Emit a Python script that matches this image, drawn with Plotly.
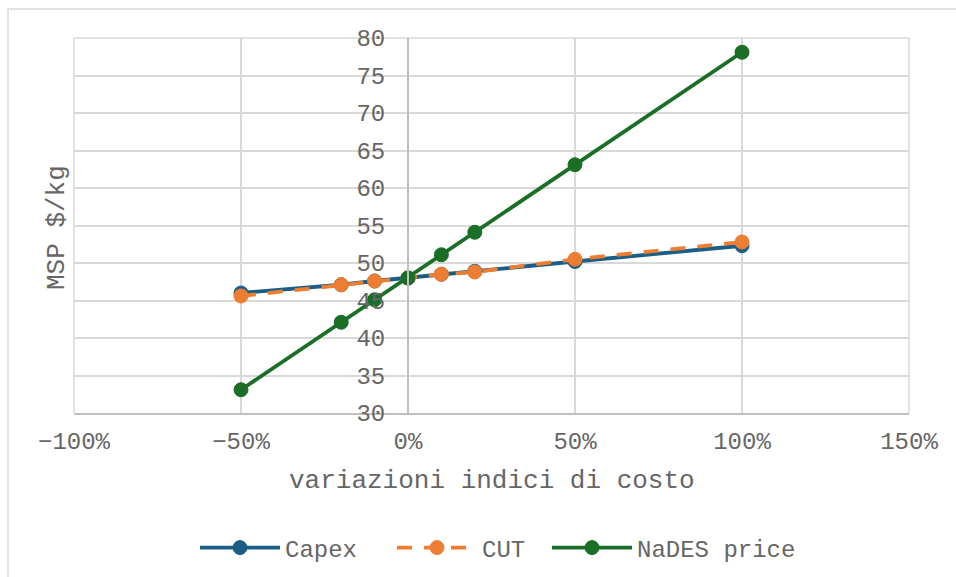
import plotly.graph_objects as go

# Cost-index variation (fraction) and resulting minimum selling price ($/kg)
variazioni = [-0.5, -0.2, -0.1, 0.0, 0.1, 0.2, 0.5, 1.0]
capex = [46.0, 47.1, 47.6, 48.0, 48.5, 48.9, 50.2, 52.3]
cut = [45.6, 47.1, 47.6, 48.0, 48.5, 48.8, 50.5, 52.8]
nades_price = [33.1, 42.1, 45.1, 48.0, 51.1, 54.1, 63.1, 78.1]

x_ticks = [-1.0, -0.5, 0.0, 0.5, 1.0, 1.5]
y_ticks = [30, 35, 40, 45, 50, 55, 60, 65, 70, 75, 80]

FONT = "Liberation Mono, Courier New, monospace"
TXT = "#666666"
GRID = "#d9d9d9"
AXIS = "#bfbfbf"

W, H = 956, 577
L, R, T, B = 74, 47, 38, 164
PW, PH = W - L - R, H - T - B


def px_x(px):
    return (px - L) / PW


def px_y(py):
    return (H - B - py) / PH


series = [
    ("Capex", capex, "#1a5e86", "solid", "legend", 195),
    ("CUT", cut, "#ed7d31", "15px,12px", "legend2", 392),
    ("NaDES price", nades_price, "#1a6e26", "solid", "legend3", 547),
]

fig = go.Figure()
legends = {}
for name, vals, col, dash, leg, lx in series:
    fig.add_trace(go.Scatter(
        x=variazioni, y=vals, name=name, mode="lines+markers",
        line=dict(color=col, width=3.8, dash=dash),
        marker=dict(color=col, size=14, line=dict(color=col, width=1)),
        legend=leg,
    ))
    legends[leg] = dict(
        orientation="h", x=px_x(lx), xanchor="left", y=px_y(548), yanchor="middle",
        font=dict(family=FONT, size=24, color=TXT), itemwidth=80,
        bgcolor="rgba(0,0,0,0)",
    )

fig.update_layout(
    width=W, height=H,
    margin=dict(l=L, r=R, t=T, b=B, pad=0, autoexpand=False),
    paper_bgcolor="white", plot_bgcolor="white",
    font=dict(family=FONT, color=TXT, size=24),
    showlegend=True,
    **legends,
    xaxis=dict(
        range=[-1.0, 1.5], tickvals=x_ticks, tickformat=".0%",
        showgrid=True, gridcolor=GRID, gridwidth=1.5,
        zeroline=False, showline=True, linecolor=AXIS, linewidth=2,
        ticks="", ticklabelstandoff=5,
        tickfont=dict(family=FONT, size=24, color=TXT),
    ),
    yaxis=dict(
        range=[30, 80], tickvals=y_ticks,
        anchor="free", position=0.4,
        showgrid=True, gridcolor=GRID, gridwidth=1.5,
        zeroline=False, showline=True, linecolor=AXIS, linewidth=2,
        ticks="", ticklabelstandoff=17,
        tickfont=dict(family=FONT, size=24, color=TXT),
    ),
    annotations=[
        dict(text="variazioni indici di costo", xref="paper", yref="paper",
             x=px_x(492), y=px_y(481), xanchor="center", yanchor="middle",
             showarrow=False, font=dict(family=FONT, size=26, color=TXT)),
        dict(text="MSP $/kg", xref="paper", yref="paper",
             x=px_x(57), y=px_y(228), xanchor="center", yanchor="middle",
             textangle=-90, showarrow=False,
             font=dict(family=FONT, size=26, color=TXT)),
    ],
    shapes=[
        # chart-area frame
        dict(type="rect", xref="paper", yref="paper",
             x0=px_x(8), y0=px_y(9), x1=px_x(1100), y1=px_y(800),
             line=dict(color=GRID, width=1.5), fillcolor="rgba(0,0,0,0)",
             layer="below"),
        # plot-area edge gridlines (top, left, right)
        dict(type="line", xref="paper", yref="paper", x0=0, x1=1, y0=1, y1=1,
             line=dict(color=GRID, width=1.5), layer="below"),
        dict(type="line", xref="paper", yref="paper", x0=0, x1=0, y0=0, y1=1,
             line=dict(color=GRID, width=1.5), layer="below"),
        dict(type="line", xref="paper", yref="paper", x0=1, x1=1, y0=0, y1=1,
             line=dict(color=GRID, width=1.5), layer="below"),
    ],
)

fig.write_html("out.html")
